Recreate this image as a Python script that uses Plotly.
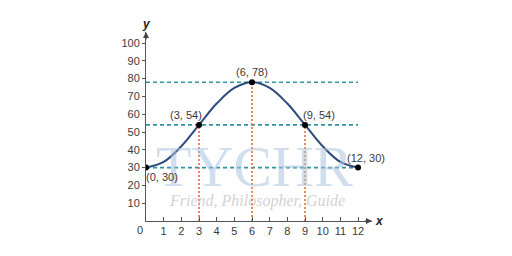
import plotly.graph_objects as go

# Data
curve_x = [0, 1, 2, 3, 4, 5, 6, 7, 8, 9, 10, 11, 12]
curve_y = [30, 33.2, 42, 54, 66, 74.8, 78, 74.8, 66, 54, 42, 33.2, 30]
pts_x = [0, 3, 6, 9, 12]
pts_y = [30, 54, 78, 54, 30]
pt_labels = ["(0, 30)", "(3, 54)", "(6, 78)", "(9, 54)", "(12, 30)"]
hlines_y = [78, 54, 30]
vlines_x = [3, 6, 9]
vlines_top = [54, 78, 54]
xticks = list(range(1, 13))
yticks = list(range(10, 101, 10))

X_MAX = 12.79
Y_MAX = 106.2
TEAL = "#2f95a0"
ORANGE = "#ea6a35"
NAVY = "#2c4a7c"
TXT = "#3a3a3a"

fig = go.Figure()

# watermark
fig.add_annotation(x=0.48, y=0.29, xref="paper", yref="paper", text="TYCHR", showarrow=False,
                   xanchor="center", yanchor="middle",
                   font=dict(family="Liberation Serif", size=58, color="rgba(170,195,222,0.55)"))
fig.add_annotation(x=0.49, y=0.106, xref="paper", yref="paper", text="Friend, Philosopher, Guide",
                   showarrow=False, xanchor="center", yanchor="middle",
                   font=dict(family="Liberation Serif", size=16, color="rgba(190,190,190,0.7)", style="italic"))

# horizontal dashed lines
for yv in hlines_y:
    fig.add_trace(go.Scatter(x=[0, pts_x[-1]], y=[yv, yv], mode="lines",
                             line=dict(color=TEAL, width=1.6, dash="4px,3px"), hoverinfo="skip"))
# vertical dotted lines
for xv, top in zip(vlines_x, vlines_top):
    fig.add_trace(go.Scatter(x=[xv, xv], y=[0, top], mode="lines",
                             line=dict(color=ORANGE, width=1.6, dash="2px,2px"), hoverinfo="skip"))

# curve
fig.add_trace(go.Scatter(x=curve_x, y=curve_y, mode="lines",
                         line=dict(color=NAVY, width=2, shape="spline"), hoverinfo="skip"))
# points
fig.add_trace(go.Scatter(x=pts_x, y=pts_y, mode="markers",
                         marker=dict(color="black", size=6), hoverinfo="skip"))

# point labels
offsets = [(16, -9), (-13, 10), (0, 10), (14, 10), (8, 10)]
for x, y, t, (dx, dy) in zip(pts_x, pts_y, pt_labels, offsets):
    fig.add_annotation(x=x, y=y, text=t, showarrow=False, xshift=dx, yshift=dy,
                       font=dict(family="Liberation Sans", size=11, color=TXT))

# axis arrows
fig.add_annotation(x=X_MAX, y=0, ax=X_MAX - 0.5, ay=0, axref="x", ayref="y", xref="x", yref="y",
                   text="", showarrow=True, arrowhead=2, arrowsize=1, arrowwidth=1.2, arrowcolor="#444")
fig.add_annotation(x=0, y=Y_MAX, ax=0, ay=Y_MAX - 5, axref="x", ayref="y", xref="x", yref="y",
                   text="", showarrow=True, arrowhead=2, arrowsize=1, arrowwidth=1.2, arrowcolor="#444")
fig.add_annotation(x=X_MAX, y=0, text="<b><i>x</i></b>", showarrow=False, xanchor="left", xshift=1,
                   font=dict(family="Liberation Sans", size=12, color="#222"))
fig.add_annotation(x=0, y=Y_MAX, text="<b><i>y</i></b>", showarrow=False, yanchor="bottom", yshift=-1,
                   font=dict(family="Liberation Sans", size=12, color="#222"))
fig.add_annotation(x=0, y=0, text="0", showarrow=False, xanchor="right", yanchor="top", xshift=-1, yshift=-1,
                   font=dict(family="Liberation Sans", size=11, color=TXT))

fig.update_xaxes(range=[0, X_MAX], tickvals=xticks, showgrid=False, zeroline=False,
                 showline=True, linecolor="#555", linewidth=1, ticks="inside", ticklen=4,
                 tickcolor="#555", tickfont=dict(family="Liberation Sans", size=11, color=TXT))
fig.update_yaxes(range=[0, Y_MAX], tickvals=yticks, showgrid=False, zeroline=False,
                 showline=True, linecolor="#555", linewidth=1, ticks="outside", ticklen=3,
                 tickcolor="#555", tickfont=dict(family="Liberation Sans", size=11, color=TXT))

fig.update_layout(width=512, height=256, margin=dict(l=146, r=140, t=32, b=35),
                  plot_bgcolor="white", paper_bgcolor="white", showlegend=False)

fig.write_html("out.html")
